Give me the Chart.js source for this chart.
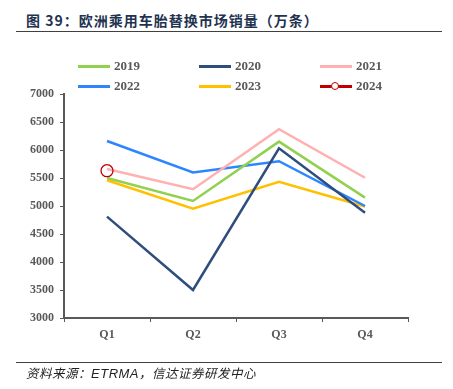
<!DOCTYPE html>
<html>
<head>
<meta charset="utf-8">
<script src="https://cdn.jsdelivr.net/npm/chart.js@4"></script>
<style>
  body { margin: 0; background: #fff; }
  #wrap { position: relative; width: 453px; height: 389px; overflow: hidden; }
  #title { position: absolute; left: 26px; top: 10px; font: bold 14px "Noto Sans CJK SC", sans-serif; color: #1f3350; letter-spacing: 1px; }
  .rule { position: absolute; left: 16px; width: 426px; height: 1px; background: #404040; }
  #source { position: absolute; left: 26px; top: 363px; font: italic 12.5px "Noto Sans CJK SC", sans-serif; color: #222; letter-spacing: 0.5px; }
  #source b { font: italic 13px "Liberation Sans", sans-serif; font-weight: normal; }
  #legend { position: absolute; left: 0; top: 0; }
  .item { position: absolute; height: 14px; font: bold 13px "Liberation Serif", serif; color: #595959; }
  .item i { position: absolute; left: 0; top: 6px; width: 32px; height: 3px; }
  .item span { position: absolute; left: 36px; top: -1px; }
  .item em { position: absolute; left: 11px; top: 3px; width: 6px; height: 6px; border: 1.5px solid #c00000; border-radius: 50%; background: #fff; }
  canvas { position: absolute; left: 0; top: 0; }
</style>
</head>
<body>
<div id="wrap">
  <div id="title">图 39：欧洲乘用车胎替换市场销量（万条）</div>
  <div class="rule" style="top:31px"></div>
  <canvas id="chart" width="453" height="389"></canvas>
  <div id="legend"></div>
  <div class="rule" style="top:362px"></div>
  <div id="source">资料来源：<b>ETRMA</b>，信达证券研发中心</div>
</div>
<script>
// data
const quarters = ['Q1', 'Q2', 'Q3', 'Q4'];
const years = ['2019', '2020', '2021', '2022', '2023', '2024'];
const sales2019 = [5500, 5090, 6150, 5150];
const sales2020 = [4810, 3500, 6030, 4880];
const sales2021 = [5660, 5300, 6370, 5505];
const sales2022 = [6160, 5600, 5800, 5000];
const sales2023 = [5460, 4950, 5430, 4990];
const sales2024 = [5630, null, null, null];
const yTicks = [3000, 3500, 4000, 4500, 5000, 5500, 6000, 6500, 7000];

const colors = ['#92d050', '#2f4d7d', '#ffb1b1', '#2d86ff', '#ffc000', '#c00000'];
const allSales = [sales2019, sales2020, sales2021, sales2022, sales2023, sales2024];

const legendBox = document.getElementById('legend');
const legendX = [78, 199, 320];
const legendY = [59, 79];
years.forEach((yr, i) => {
    const div = document.createElement('div');
    div.className = 'item';
    div.style.left = legendX[i % 3] + 'px';
    div.style.top = legendY[Math.floor(i / 3)] + 'px';
    div.innerHTML = `<i style="background:${colors[i]}"></i>` + (yr === '2024' ? '<em></em>' : '') + `<span>${yr}</span>`;
    legendBox.append(div);
});

const datasets = years.map((yr, i) => ({
    label: yr,
    data: allSales[i],
    borderColor: colors[i],
    backgroundColor: colors[i],
    borderWidth: 2.5,
    pointRadius: yr === '2024' ? 6 : 0,
    pointBorderWidth: 1.3,
    pointBorderColor: colors[i],
    pointBackgroundColor: 'rgba(255,255,255,0)',
    tension: 0,
    order: yr === '2024' ? 0 : 1
}));

const tickFont = { family: 'Liberation Serif', size: 12, weight: 'bold' };

new Chart(document.getElementById('chart'), {
    type: 'line',
    data: { labels: quarters, datasets: datasets },
    options: {
        responsive: false,
        animation: false,
        layout: { padding: { top: 94, right: 45, bottom: 0, left: 0 } },
        plugins: { legend: { display: false }, tooltip: { enabled: false } },
        scales: {
            x: {
                offset: true,
                grid: { offset: true, drawOnChartArea: false, color: '#595959', tickLength: 4, tickWidth: 1 },
                border: { color: '#595959', width: 2 },
                ticks: { color: '#595959', font: tickFont, padding: 6 },
                afterFit: (s) => { s.height = 71; }
            },
            y: {
                min: 3000,
                max: 7000,
                afterBuildTicks: (s) => { s.ticks = yTicks.map(v => ({ value: v })); },
                grid: { drawOnChartArea: false, color: '#595959', tickLength: 4 },
                border: { color: '#595959', width: 2 },
                ticks: { color: '#595959', font: tickFont, padding: 6, callback: (v) => String(v) },
                afterFit: (s) => { s.width = 64; }
            }
        }
    }
});
</script>
</body>
</html>
